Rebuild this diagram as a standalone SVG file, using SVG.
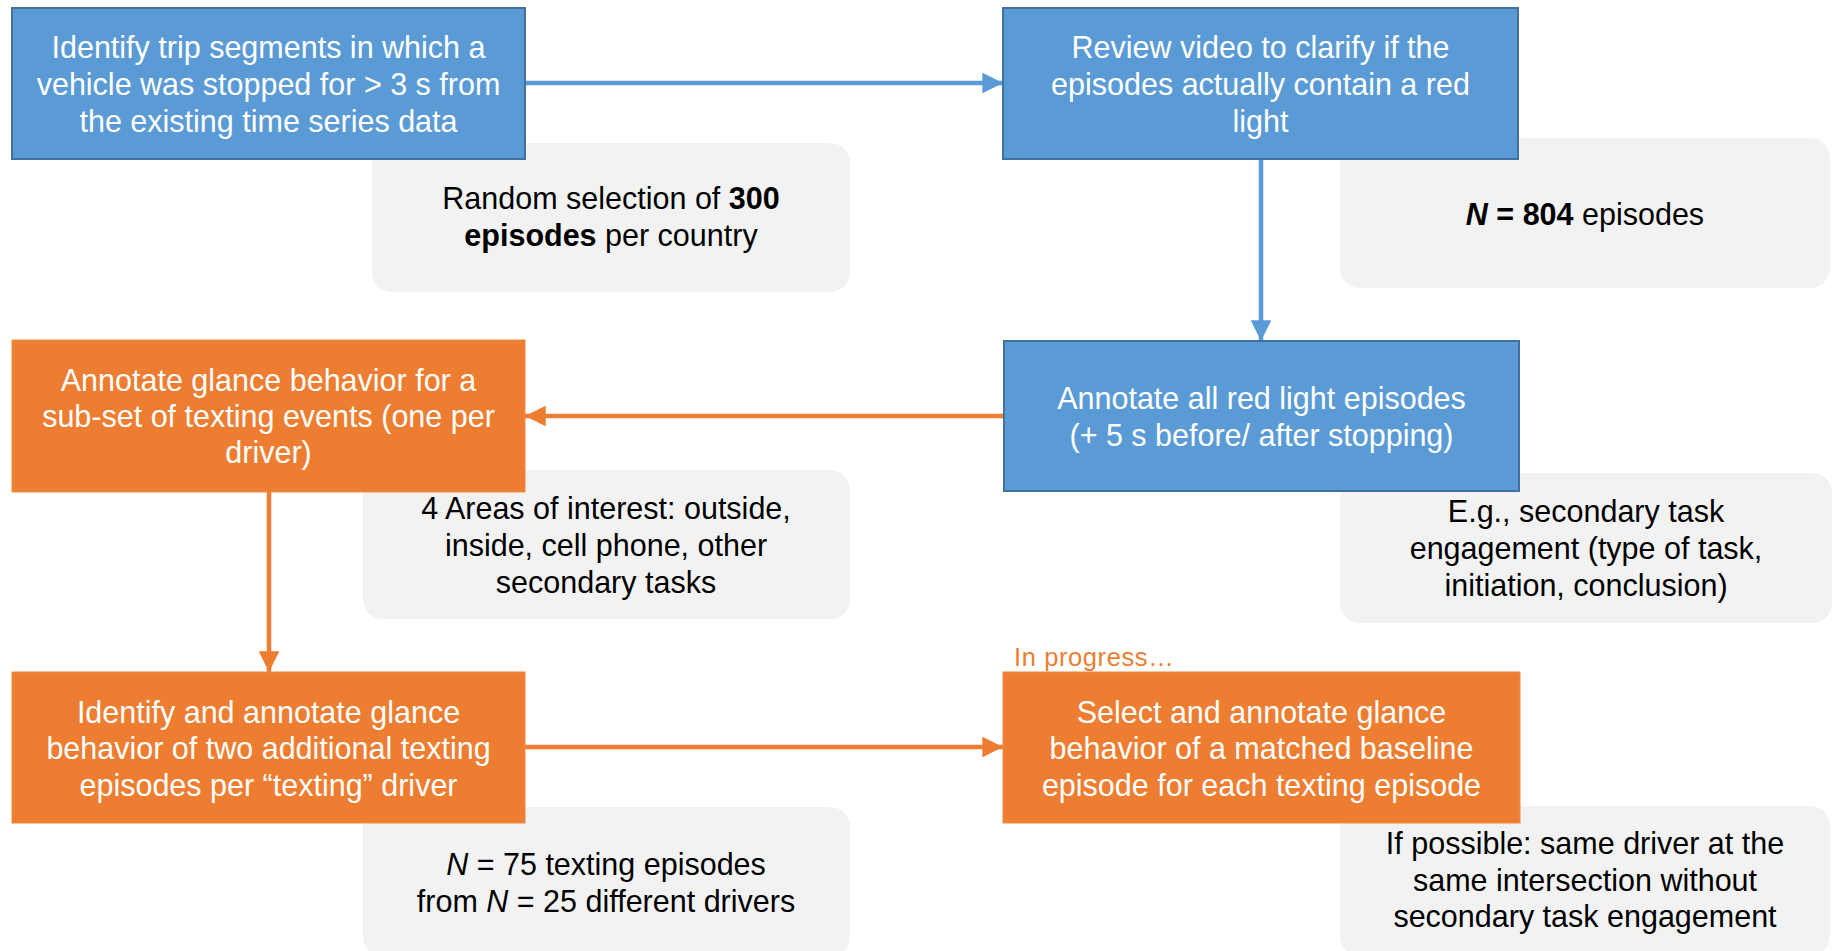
<svg xmlns="http://www.w3.org/2000/svg" width="1834" height="951" viewBox="0 0 1834 951">
<style>
text{font-family:"Liberation Sans",Arial,Helvetica,sans-serif;font-size:30.5px;text-anchor:middle}
.blue{fill:#5B9BD5;stroke:#41719C;stroke-width:2}
.orange{fill:#ED7D31;stroke:#F08A45;stroke-width:1}
.note{fill:#F2F2F2}
.wt{fill:#FFFFFF}
.bt{fill:#000000}
.cb{stroke:#5B9BD5;stroke-width:4.5;fill:none}
.co{stroke:#ED7D31;stroke-width:4.5;fill:none}
</style>
<defs>
<marker id="ab" viewBox="0 0 10 10" refX="10" refY="5" markerWidth="4.6" markerHeight="4.6" orient="auto" markerUnits="strokeWidth"><path d="M0,0 L10,5 L0,10 z" fill="#5B9BD5"/></marker>
<marker id="ao" viewBox="0 0 10 10" refX="10" refY="5" markerWidth="4.6" markerHeight="4.6" orient="auto" markerUnits="strokeWidth"><path d="M0,0 L10,5 L0,10 z" fill="#ED7D31"/></marker>
</defs>

<g id="notes">
<g id="note1"><rect class="note" x="372" y="143" width="478" height="149" rx="20"/>
<text class="bt" x="611" y="209">Random selection of <tspan font-weight="bold">300</tspan></text>
<text class="bt" x="611" y="246"><tspan font-weight="bold">episodes</tspan> per country</text></g>
<g id="note2"><rect class="note" x="1340" y="138" width="490" height="150" rx="20"/>
<text class="bt" x="1585" y="225"><tspan font-weight="bold" font-style="italic">N</tspan><tspan font-weight="bold"> = 804</tspan> episodes</text></g>
<g id="note3"><rect class="note" x="363" y="470" width="487" height="149" rx="20"/>
<text class="bt" x="606" y="519">4 Areas of interest: outside,</text>
<text class="bt" x="606" y="556">inside, cell phone, other</text>
<text class="bt" x="606" y="593">secondary tasks</text></g>
<g id="note4"><rect class="note" x="1340" y="473" width="492" height="150" rx="20"/>
<text class="bt" x="1586" y="522">E.g., secondary task</text>
<text class="bt" x="1586" y="559">engagement (type of task,</text>
<text class="bt" x="1586" y="596">initiation, conclusion)</text></g>
<g id="note5"><rect class="note" x="363" y="807" width="487" height="150" rx="20"/>
<text class="bt" x="606" y="875"><tspan font-style="italic">N</tspan> = 75 texting episodes</text>
<text class="bt" x="606" y="912">from <tspan font-style="italic">N</tspan> = 25 different drivers</text></g>
<g id="note6"><rect class="note" x="1340" y="806" width="490" height="150" rx="20"/>
<text class="bt" x="1585" y="854">If possible: same driver at the</text>
<text class="bt" x="1585" y="891">same intersection without</text>
<text class="bt" x="1585" y="927">secondary task engagement</text></g>
</g>

<g id="connectors">
<line class="cb" x1="525" y1="83" x2="1003" y2="83" marker-end="url(#ab)"/>
<line class="cb" x1="1261" y1="159" x2="1261" y2="341" marker-end="url(#ab)"/>
<line class="co" x1="1004" y1="416" x2="525" y2="416" marker-end="url(#ao)"/>
<line class="co" x1="269" y1="492" x2="269" y2="672" marker-end="url(#ao)"/>
<line class="co" x1="525" y1="747" x2="1003" y2="747" marker-end="url(#ao)"/>
</g>

<g id="box1"><rect class="blue" x="12" y="8" width="513" height="151"/>
<text class="wt" x="268.5" y="58">Identify trip segments in which a</text>
<text class="wt" x="268.5" y="95">vehicle was stopped for &gt; 3 s from</text>
<text class="wt" x="268.5" y="132">the existing time series data</text></g>
<g id="box2"><rect class="blue" x="1003" y="8" width="515" height="151"/>
<text class="wt" x="1260.5" y="58">Review video to clarify if the</text>
<text class="wt" x="1260.5" y="95">episodes actually contain a red</text>
<text class="wt" x="1260.5" y="132">light</text></g>
<g id="box3"><rect class="orange" x="12" y="340" width="513" height="152"/>
<text class="wt" x="268.5" y="391">Annotate glance behavior for a</text>
<text class="wt" x="268.5" y="427">sub-set of texting events (one per</text>
<text class="wt" x="268.5" y="463">driver)</text></g>
<g id="box4"><rect class="blue" x="1004" y="341" width="515" height="150"/>
<text class="wt" x="1261.5" y="409">Annotate all red light episodes</text>
<text class="wt" x="1261.5" y="446">(+ 5 s before/ after stopping)</text></g>
<g id="box5"><rect class="orange" x="12" y="672" width="513" height="151"/>
<text class="wt" x="268.5" y="723">Identify and annotate glance</text>
<text class="wt" x="268.5" y="759">behavior of two additional texting</text>
<text class="wt" x="268.5" y="796">episodes per “texting” driver</text></g>
<g id="box6"><text x="1014" y="666" style="font-size:25.5px;letter-spacing:0.6px;text-anchor:start;fill:#ED7D31">In progress…</text>
<rect class="orange" x="1003" y="672" width="517" height="151"/>
<text class="wt" x="1261.5" y="723">Select and annotate glance</text>
<text class="wt" x="1261.5" y="759">behavior of a matched baseline</text>
<text class="wt" x="1261.5" y="796">episode for each texting episode</text></g>
</svg>
